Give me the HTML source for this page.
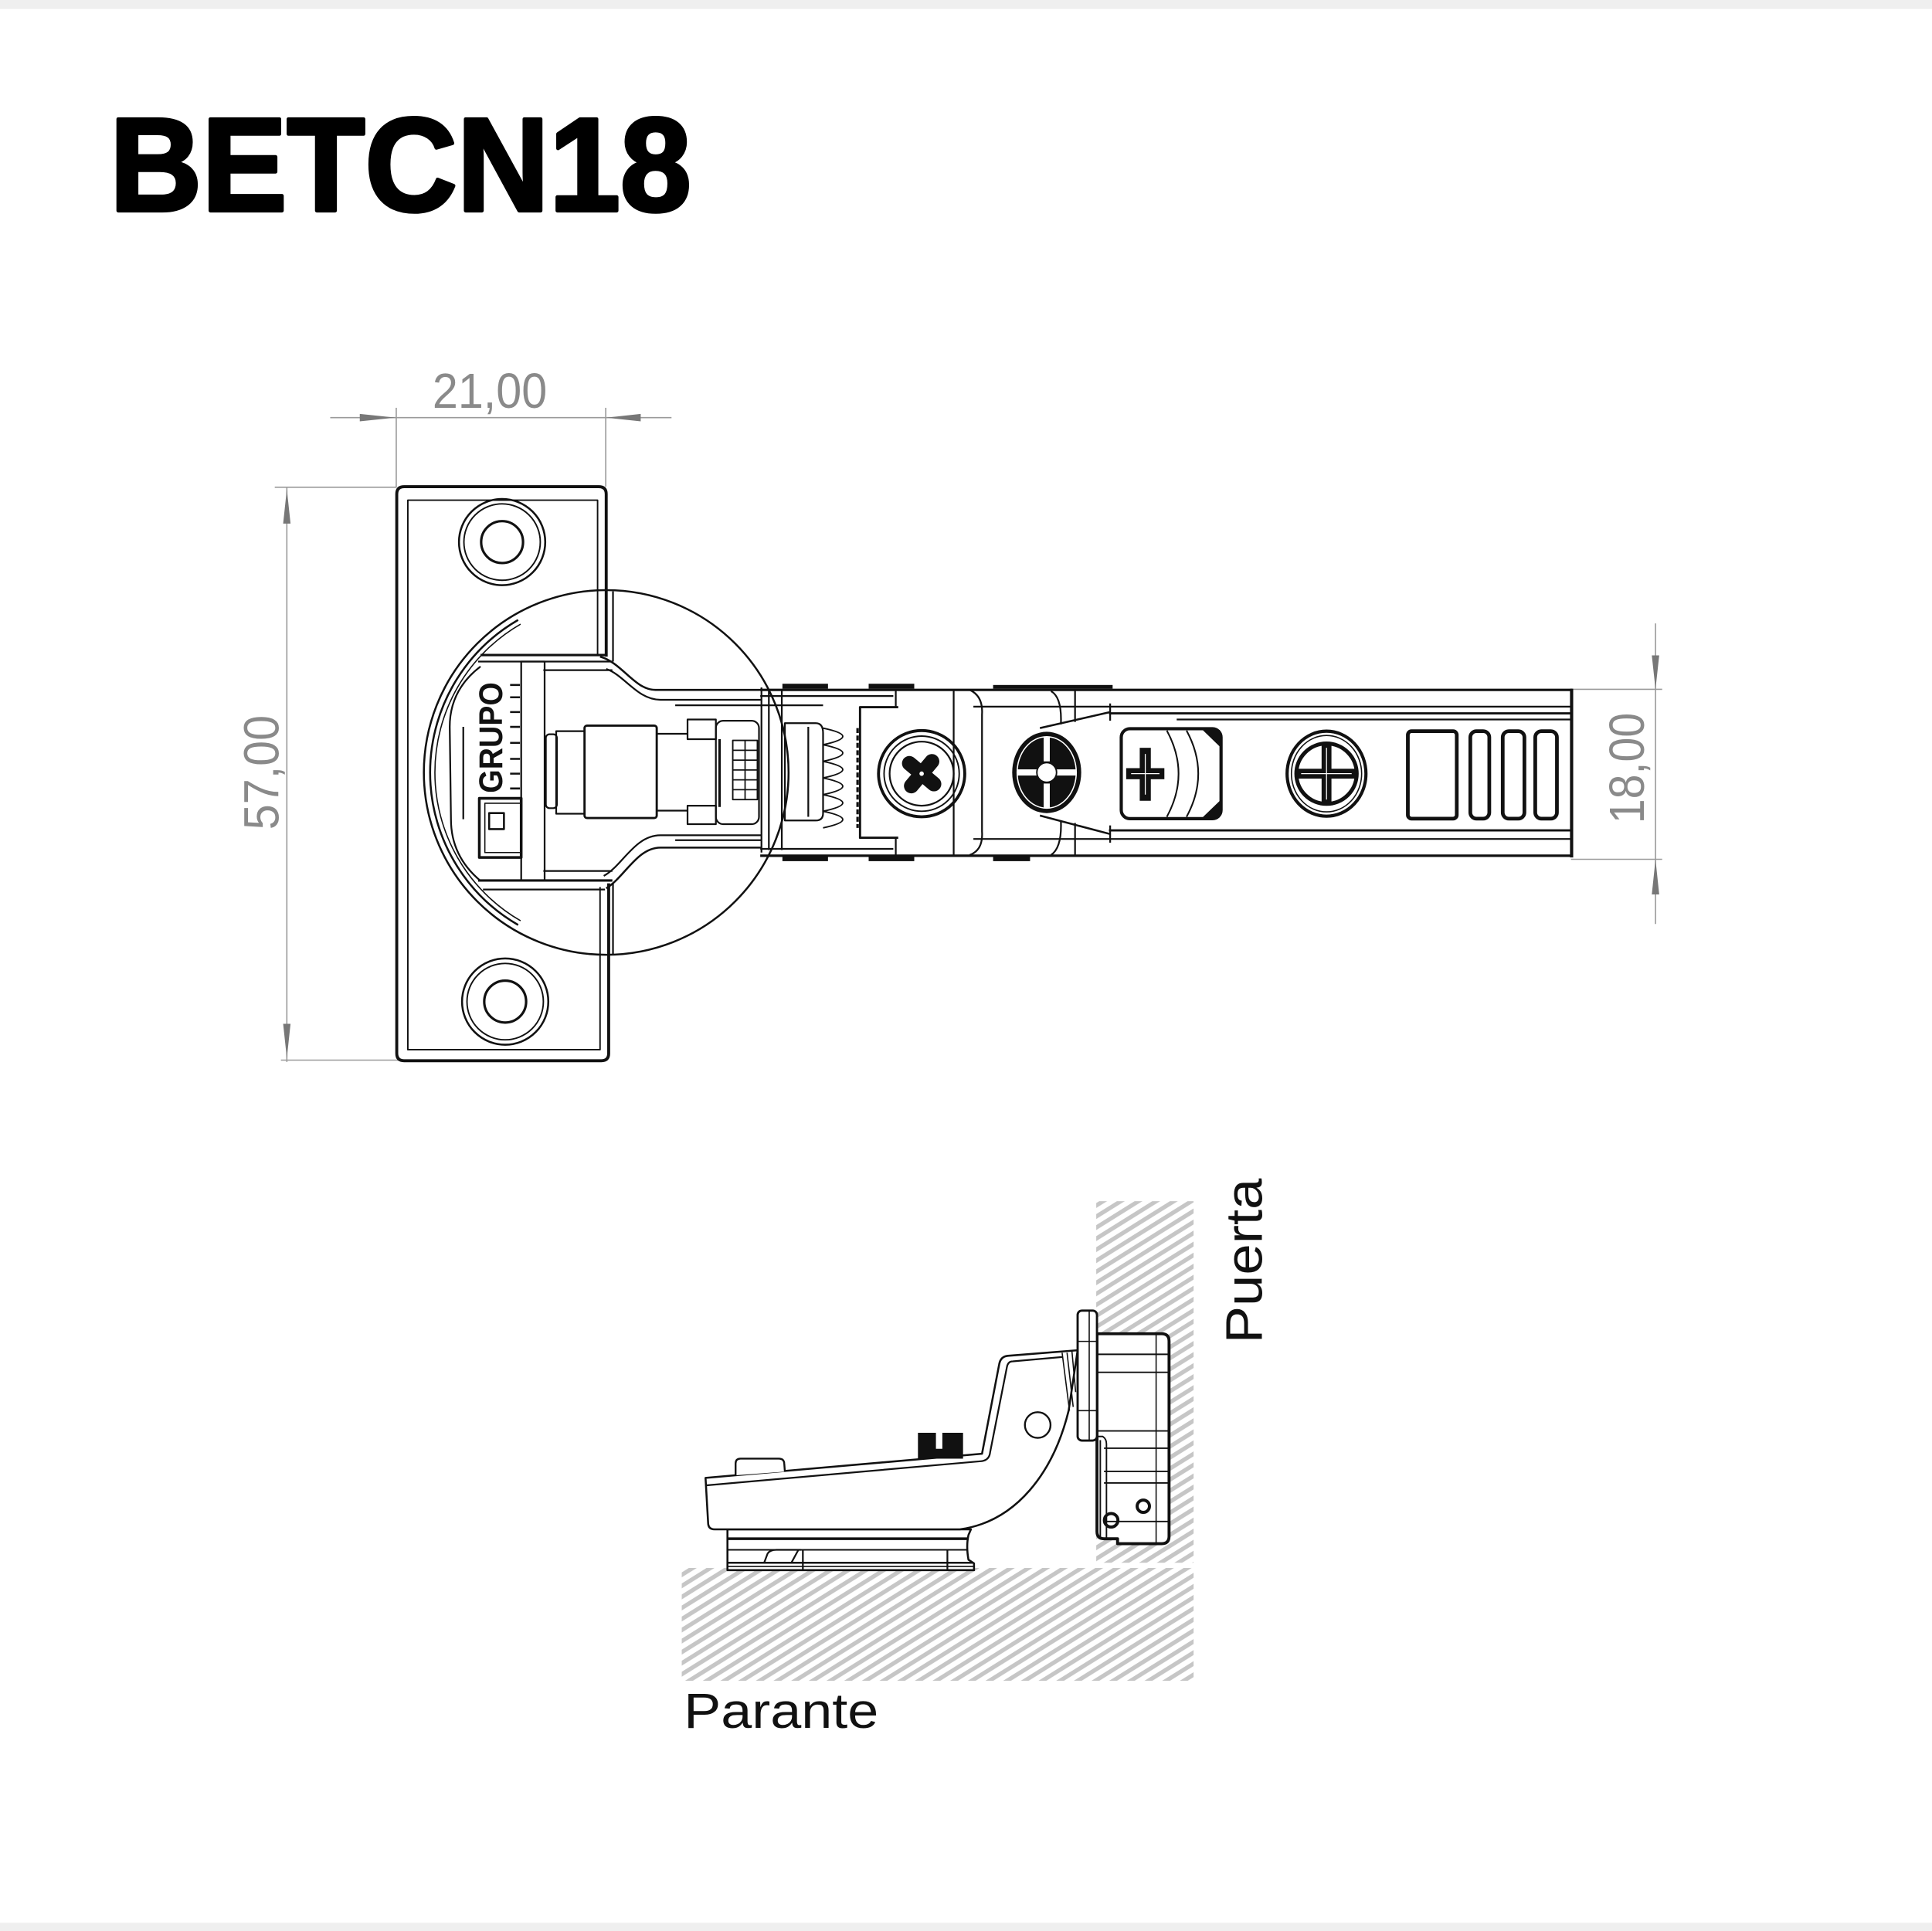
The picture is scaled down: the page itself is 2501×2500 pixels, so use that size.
<!DOCTYPE html>
<html><head><meta charset="utf-8"><style>
html,body{margin:0;padding:0;background:#fff;}
svg{display:block;}
</style></head><body>
<svg xmlns="http://www.w3.org/2000/svg" width="2501" height="2500" viewBox="0 0 1568 1567.4" preserveAspectRatio="none">
<defs>
<pattern id="h" patternUnits="userSpaceOnUse" width="20" height="7.6" patternTransform="rotate(-32)">
<rect width="20" height="3.4" fill="#c6c6c6"/>
</pattern>
</defs>
<rect width="1568" height="1567.4" fill="#fff"/>
<rect width="1568" height="7.3" fill="#efefef"/>
<rect y="1560.7" width="1568" height="7" fill="#efefef"/>
<text x="89" y="171" font-family="Liberation Sans, sans-serif" font-weight="bold" font-size="108" textLength="472" lengthAdjust="spacingAndGlyphs" fill="#000" stroke="#000" stroke-width="3" stroke-linejoin="round">BETCN18</text>

<!-- dimensions -->
<g stroke="#9a9a9a" stroke-width="1" fill="none">
<line x1="268" y1="339" x2="545" y2="339"/>
<line x1="321.6" y1="331" x2="321.6" y2="395"/>
<line x1="491.6" y1="331" x2="491.6" y2="395"/>
<line x1="223" y1="395.5" x2="322" y2="395.5"/>
<line x1="228" y1="860.5" x2="325" y2="860.5"/>
<line x1="232.8" y1="395.5" x2="232.8" y2="862"/>
<line x1="1275" y1="559.5" x2="1349" y2="559.5"/>
<line x1="1275" y1="697.5" x2="1349" y2="697.5"/>
<line x1="1343.6" y1="506" x2="1343.6" y2="750"/>
</g>
<g fill="#777">
<polygon points="321,339 292,336 292,342"/>
<polygon points="492,339 520,336 520,342"/>
<polygon points="232.8,397 229.8,425 235.8,425"/>
<polygon points="232.8,859 229.8,831 235.8,831"/>
<polygon points="1343.6,559.5 1340.6,532 1346.6,532"/>
<polygon points="1343.6,697.5 1340.6,726 1346.6,726"/>
</g>
<g font-family="Liberation Sans, sans-serif" font-size="40" fill="#8a8a8a" text-anchor="middle">
<text x="397.5" y="331" textLength="93" lengthAdjust="spacingAndGlyphs">21,00</text>
<text transform="translate(226,627) rotate(-90)" textLength="93" lengthAdjust="spacingAndGlyphs">57,00</text>
<text transform="translate(1334,623.5) rotate(-90)" textLength="90" lengthAdjust="spacingAndGlyphs">18,00</text>
</g>

<!-- top view -->
<g stroke="#111" fill="none" stroke-width="1.4" stroke-linejoin="round">
<path d="M492,533 L492,401 Q492,395 486,395 L328,395 Q322,395 322,401 L322,855 Q322,861 328,861 L488,861 Q494,861 494,855 L494,717" stroke-width="2.4"/>
<path d="M485,532 L485,406 L331,406 L331,852 L487,852 L487,720" stroke-width="1.2"/>
<line x1="497.5" y1="480" x2="497.5" y2="537"/>
<line x1="497.5" y1="717" x2="497.5" y2="775"/>
<circle cx="407.5" cy="440" r="35" stroke-width="1.6"/>
<circle cx="407.5" cy="440" r="31" stroke-width="1.2"/>
<circle cx="407.5" cy="440" r="17" stroke-width="2"/>
<circle cx="410" cy="813" r="35" stroke-width="1.6"/>
<circle cx="410" cy="813" r="31" stroke-width="1.2"/>
<circle cx="410" cy="813" r="17" stroke-width="2"/>
<circle cx="492" cy="627" r="148" stroke-width="1.6"/>
<path d="M420.5,503.2 A143 143 0 0 0 420.5,750.8" stroke-width="1.6"/>
<path d="M422.5,506.6 A139 139 0 0 0 422.5,747.4" stroke-width="1"/>
<path d="M390,541 Q365,560 365,590 L366,665 Q366,695 390,715" stroke-width="1.4"/>
<line x1="376" y1="590" x2="376" y2="665"/>
<line x1="390" y1="531.7" x2="491" y2="531.7" stroke-width="2"/>
<line x1="388" y1="537" x2="497" y2="537"/>
<line x1="441" y1="544" x2="497" y2="544"/>
<line x1="441" y1="707" x2="497" y2="707"/>
<line x1="388" y1="714.7" x2="497" y2="714.7" stroke-width="2"/>
<line x1="392" y1="722" x2="491" y2="722"/>
<rect x="423" y="537" width="19" height="177.7"/>
<path d="M414,556 h8 M414,566 h8 M414,578 h8 M414,590 h8 M414,603 h8 M414,616 h8 M414,628 h8 M414,640 h8" stroke-width="1.6"/>
<rect x="389" y="648" width="34" height="48" stroke-width="2.2"/>
<rect x="393.5" y="652" width="29" height="40" stroke-width="1"/>
<rect x="397" y="660" width="12" height="13" stroke-width="1.6"/>
<rect x="443" y="596" width="9" height="60" rx="3"/>
<rect x="451.4" y="593.5" width="23" height="67"/>
<rect x="474.4" y="589" width="58.6" height="75" rx="2" stroke-width="1.8"/>
<line x1="533" y1="595.6" x2="558" y2="595.6"/>
<line x1="533" y1="658" x2="558" y2="658"/>
<rect x="558" y="584" width="23" height="16"/>
<rect x="558" y="654" width="23" height="15"/>
<rect x="581" y="585" width="35" height="84" rx="6"/>
<rect x="594.7" y="601" width="20" height="48" stroke-width="1.2"/>
<path d="M604.7,601 V649 M594.7,609 H614.7 M594.7,617 H614.7 M594.7,625 H614.7 M594.7,633 H614.7 M594.7,641 H614.7" stroke-width="1.1"/>
<line x1="584" y1="600" x2="584" y2="655" stroke-width="2"/>
<path d="M487,533 C505,538 515,560 532,560 L618,560" stroke-width="1.6"/>
<path d="M492,543 C507,548 517,568 536,568 L618,568"/>
<path d="M492,721 C507,712 517,688 536,688 L618,688" stroke-width="1.6"/>
<path d="M490,711 C505,703 515,678 536,678 L618,678"/>
<line x1="548" y1="572.5" x2="618" y2="572.5"/>
<line x1="548" y1="682" x2="618" y2="682"/>
<line x1="618" y1="558" x2="618" y2="692"/>
<line x1="624" y1="560" x2="624" y2="690"/>
<line x1="634.5" y1="560" x2="634.5" y2="690"/>
<line x1="617" y1="560" x2="1276" y2="560" stroke-width="2"/>
<line x1="617" y1="565" x2="725" y2="565"/>
<line x1="617" y1="572.5" x2="668" y2="572.5"/>
<path d="M729,574 L698,574 L698,680 L729,680" stroke-width="1.8"/>
<line x1="727" y1="560" x2="727" y2="574"/>
<line x1="727" y1="680" x2="727" y2="694"/>
<line x1="617" y1="689" x2="725" y2="689"/>
<line x1="617" y1="694.6" x2="1276" y2="694.6" stroke-width="2"/>
<path d="M637,587 L662,587 Q668,587 668,595 L668,660 Q668,666 662,666 L637,666 Z"/>
<line x1="656" y1="590" x2="656" y2="663"/>
<path d="M668,591 Q700,597.7 668,604.5 M668,604.5 Q700,611.2 668,618 M668,618 Q700,624.7 668,631.5 M668,631.5 Q700,638.2 668,645 M668,645 Q700,651.7 668,658.5 M668,658.5 Q700,665.2 668,672" stroke-width="1.2"/>
<line x1="696" y1="591" x2="696" y2="672" stroke-width="2" stroke-dasharray="4 2"/>
<line x1="790" y1="573.6" x2="1276" y2="573.6"/>
<line x1="900" y1="579" x2="1276" y2="579" stroke-width="1.8"/>
<line x1="955" y1="584" x2="1276" y2="584"/>
<line x1="900" y1="674" x2="1276" y2="674" stroke-width="1.8"/>
<line x1="790" y1="681" x2="1276" y2="681"/>
<line x1="1275.5" y1="559" x2="1275.5" y2="696" stroke-width="2.6"/>
<line x1="774" y1="560" x2="774" y2="694"/>
<path d="M787,560 Q798,565 797,580 L797,675 Q798,690 787,694"/>
<path d="M853,561 Q862,566 861,588 M861,666 Q862,688 853,694"/>
<line x1="872.5" y1="560" x2="872.5" y2="586"/>
<line x1="872.5" y1="668" x2="872.5" y2="694"/>
<path d="M844,591 L901,578 M844,662 L901,677" stroke-width="1.6"/>
<line x1="901" y1="571" x2="901" y2="585"/>
<line x1="901" y1="670" x2="901" y2="684"/>
<circle cx="748" cy="628" r="35" stroke-width="2.4"/>
<circle cx="748" cy="628" r="30.5" stroke-width="1.2"/>
<circle cx="748" cy="628" r="26" stroke-width="1.4"/>
<rect x="910" y="591.5" width="81" height="73" rx="7" stroke-width="2.6"/>
<path d="M947,593 Q966,628 947,663 M963,593 Q982,628 963,663" stroke-width="1.3"/>
<ellipse cx="1076.6" cy="628" rx="32" ry="34.5" stroke-width="2.6"/>
<ellipse cx="1076.6" cy="628" rx="28.5" ry="31" stroke-width="1"/>
<circle cx="1076.6" cy="628" r="24.5" stroke-width="3.2"/>
<rect x="1142.6" y="593.5" width="39.7" height="71" rx="3" stroke-width="3"/>
<rect x="1193.3" y="593.5" width="15.4" height="71" rx="5" stroke-width="3"/>
<rect x="1219.6" y="593.5" width="17.6" height="71" rx="5" stroke-width="3"/>
<rect x="1246" y="593.5" width="17.6" height="71" rx="5" stroke-width="3"/>
</g>
<g fill="#111">
<rect x="635" y="555" width="37" height="4"/>
<rect x="705" y="555" width="37" height="4"/>
<rect x="806" y="556" width="97" height="3"/>
<rect x="635" y="695" width="37" height="4"/>
<rect x="705" y="695" width="37" height="4"/>
<rect x="806" y="695" width="30" height="4"/>
<g transform="translate(748,628) rotate(40)">
<rect x="-19" y="-6" width="38" height="12" rx="6"/>
<rect x="-6" y="-19" width="12" height="38" rx="6"/>
<circle r="1.8" fill="#fff"/>
</g>
<ellipse cx="849.5" cy="627" rx="28" ry="33"/>
<g fill="#fff">
<ellipse cx="849.5" cy="627" rx="24" ry="29" fill="none" stroke="#fff" stroke-width="1"/>
<rect x="825.5" y="624.5" width="16" height="5"/>
<rect x="857.5" y="624.5" width="16" height="5"/>
<rect x="847" y="598" width="5" height="20"/>
<rect x="847" y="636" width="5" height="20"/>
<circle cx="849.5" cy="627" r="8" stroke="#111" stroke-width="1.2"/>
</g>
<rect x="925" y="607" width="9" height="43"/>
<rect x="914" y="623.5" width="31" height="9"/>
<path d="M976,592.5 L990,592.5 L990,606 Z"/>
<path d="M976,663.5 L990,663.5 L990,650 Z"/>
<rect x="1072.6" y="604" width="8" height="48"/>
<rect x="1052.6" y="624" width="48" height="8"/>
</g>
<g stroke="#fff" stroke-width="0.8">
<line x1="929.5" y1="612" x2="929.5" y2="645"/>
<line x1="918" y1="628" x2="941" y2="628"/>
<line x1="1076.6" y1="607" x2="1076.6" y2="649"/>
<line x1="1056" y1="628" x2="1097" y2="628"/>
</g>
<text transform="translate(407.5,598.7) rotate(-90)" text-anchor="middle" font-family="Liberation Sans, sans-serif" font-weight="bold" font-size="27" textLength="90" lengthAdjust="spacingAndGlyphs" fill="#111">GRUPO</text>

<!-- side view -->
<rect x="889.7" y="975" width="79" height="293.5" fill="url(#h)"/>
<rect x="553.3" y="1272.7" width="415.4" height="91.6" fill="url(#h)"/>
<g stroke="#111" fill="none" stroke-width="1.4" stroke-linejoin="round">
<path d="M590.4,1241.4 L590.4,1274.5 L790.5,1274.5 L790.5,1269 L786,1266 Q784,1255 786,1246 L788,1241.4 Z" fill="#fff" stroke-width="1.6"/>
<line x1="590" y1="1249" x2="786" y2="1249" stroke-width="2.2"/>
<line x1="590" y1="1258" x2="785" y2="1258" stroke-width="1.2"/>
<line x1="590" y1="1268.5" x2="790" y2="1268.5" stroke-width="1.6"/>
<line x1="590" y1="1271.5" x2="790" y2="1271.5" stroke-width="1"/>
<path d="M620,1269 L623,1261 Q625,1258 630,1258 L650,1258 M648,1258 L642,1269" stroke-width="1.4"/>
<line x1="651.6" y1="1258" x2="651.6" y2="1274"/>
<line x1="768.9" y1="1258" x2="768.9" y2="1274"/>
<path d="M572.6,1199.6 L797,1180 L810.9,1107.6 Q812,1101 818,1100.5 L874.6,1096 L867.3,1145 C855,1195 825,1235 779,1241.4 L580,1241.4 Q574.7,1241.4 574.7,1236 Z" fill="#fff" stroke-width="1.6"/>
<path d="M572.6,1205.7 L797,1186 Q803,1185 803.6,1178.7 L817.2,1109.7 Q818,1105 822,1105 L862,1101.5"/>
<path d="M862,1098 L868,1145 M866,1098 L871,1142 M870,1097 L873,1130" stroke-width="1"/>
<circle cx="842.2" cy="1156.7" r="10.4" stroke-width="1.5"/>
<path d="M597,1197.5 L597,1188 Q597,1184 601,1184 L632,1184 Q636.3,1184 636.5,1188 L637,1194.5" fill="#fff" stroke-width="1.5"/>
<path d="M890.3,1082.6 L942.8,1082.6 Q948.8,1082.6 948.8,1088.6 L948.8,1247 Q948.8,1253 942.8,1253 L907,1253 L907,1249 L896,1249 Q890.3,1249 890.3,1243 Z" fill="#fff" stroke-width="2.4"/>
<line x1="938.3" y1="1083" x2="938.3" y2="1253" stroke-width="1"/>
<path d="M890.3,1099.3 H948 M890.3,1113.9 H948 M890.3,1161.5 H948 M896,1175.5 H948 M896,1194.3 H948 M896,1203.7 H948 M896,1235 H948" stroke-width="1.2"/>
<path d="M890.3,1166 L895,1166 Q898,1168 898,1172 L898,1249" stroke-width="1.2"/>
<line x1="893" y1="1169" x2="893" y2="1249" stroke-width="1.2"/>
<rect x="874.6" y="1063.8" width="15.7" height="105.5" rx="3.5" fill="#fff" stroke-width="1.8"/>
<line x1="884" y1="1064" x2="884" y2="1169" stroke-width="1"/>
<path d="M874.6,1088.8 H890.3 M874.6,1145 H890.3" stroke-width="1"/>
<circle cx="927.9" cy="1222.6" r="5" stroke-width="2.5"/>
<circle cx="901.8" cy="1234" r="5.5" stroke-width="2.5"/>
</g>
<rect x="745" y="1163" width="36.6" height="21" fill="#111"/>
<rect x="759.6" y="1162" width="5.2" height="14" fill="#fff"/>

<g font-family="Liberation Sans, sans-serif" font-size="40" fill="#111">
<text x="555" y="1402.6" textLength="158" lengthAdjust="spacingAndGlyphs">Parante</text>
<text transform="translate(1024,1023.5) rotate(-90)" text-anchor="middle" font-size="42" textLength="134" lengthAdjust="spacingAndGlyphs">Puerta</text>
</g>
</svg>
</body></html>
